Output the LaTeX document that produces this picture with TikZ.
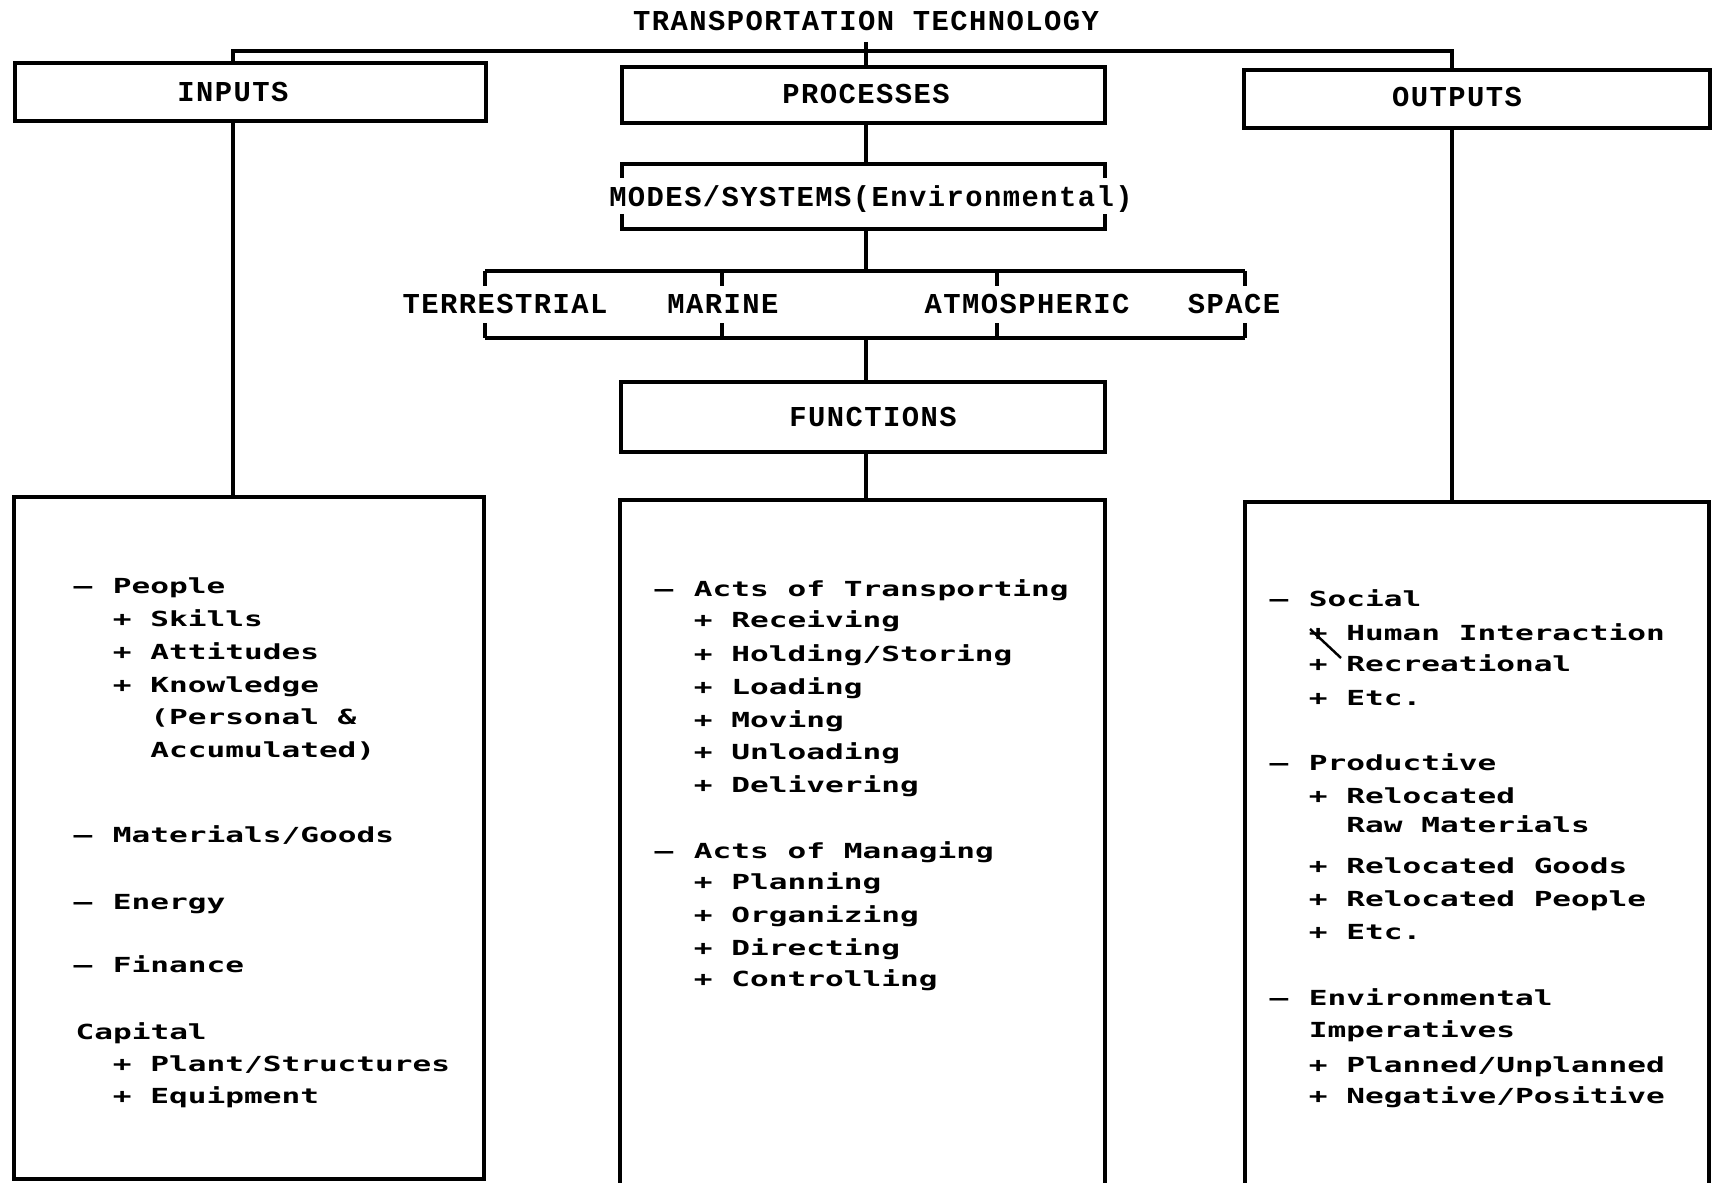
\documentclass[tikz,border=0pt]{standalone}
\usepackage{fontspec}
\usetikzlibrary{fit}
\newfontfamily\headfont[LetterSpace=5]{Liberation Mono}
\newfontfamily\bodyfont[FakeStretch=1.5]{DejaVu Sans Mono}
\begin{document}
\begin{tikzpicture}[x=0.01cm,y=-0.01cm,line width=0.9pt,
  head/.style={font=\headfont\bfseries\fontsize{8.2pt}{9pt}\selectfont, inner sep=0pt, anchor=base},
  body/.style={font=\bodyfont\bfseries\fontsize{5.9pt}{7pt}\selectfont, inner sep=0pt, anchor=base west},
  frame/.style={draw, inner sep=0pt},
]
\useasboundingbox[fill=white] (0,0) rectangle (1712,1183);

% connector columns and the top bus
\coordinate (inx) at (233,0);
\coordinate (px) at (866,0);
\coordinate (outx) at (1452,0);
\coordinate (bus) at (0,51);

% title and the three heading boxes
\node[head] (title) at (866,31) {TRANSPORTATION TECHNOLOGY};
\node[frame, fit={(15,63) (486,121)}] (inp) {};
\node[frame, fit={(622,67) (1105,123)}] (proc) {};
\node[frame, fit={(1244,70) (1710,128)}] (outp) {};
\node[head] (inpt) at (233,102) {INPUTS};
\node[head] (proct) at (866,104) {PROCESSES};
\node[head] (outpt) at (1457,107) {OUTPUTS};

\draw ([yshift=-0.09cm]title.south) -- (proc.north -| px);
\draw (inp.north -| inx) -- (inx |- bus) -- (outx |- bus) -- (outp.north -| outx);

% modes / systems bracket
\node[head] (modes) at (871,207) {MODES/SYSTEMS(Environmental)};
\coordinate (m1) at (622,164);
\coordinate (m2) at (1105,164);
\coordinate (m3) at (622,229);
\coordinate (m4) at (1105,229);
\draw (m1) ++(0,14) -- (m1) -- (m2) -- ++(0,14);
\draw (m3) ++(0,-15) -- (m3) -- (m4) -- ++(0,-15);
\draw (proc.south -| px) -- (m1 -| px);

% environments bar
\coordinate (b1) at (485,271);
\coordinate (b2) at (1245,271);
\coordinate (b3) at (485,338);
\coordinate (b4) at (1245,338);
\draw (b1) -- (b2);
\draw (b3) -- (b4);
\foreach \x in {485,722,997,1245}{
  \draw (\x,271) -- ++(0,15);
  \draw (\x,338) -- ++(0,-15);
}
\node[head] (terr) at (505,314) {TERRESTRIAL};
\node[head] (mar) at (723,314) {MARINE};
\node[head] (atm) at (1027,314) {ATMOSPHERIC};
\node[head] (spc) at (1234,314) {SPACE};
\draw (m3 -| px) -- (b1 -| px);

% functions
\node[frame, fit={(621,382) (1105,452)}] (func) {};
\node[head] (funct) at (873,427) {FUNCTIONS};
\draw (b3 -| px) -- (func.north -| px);

% detail boxes
\node[frame, fit={(14,497) (484,1179)}] (inbox) {};
\node[frame, fit={(620,500) (1105,1200)}] (procbox) {};
\node[frame, fit={(1245,502) (1709,1200)}] (outbox) {};
\draw (inp.south -| inx) -- (inbox.north -| inx);
\draw (func.south -| px) -- (procbox.north -| px);
\draw (outp.south -| outx) -- (outbox.north -| outx);

% inputs list
\node[body] (i1) at (72,593.9) {–};
\node[body] (i1t) at (111.4,593.9) {People};
\node[body] (i2) at (111.4,626.7) {+};
\node[body] (i2t) at (148.8,626.7) {Skills};
\node[body] (i3) at (111.4,659.4) {+};
\node[body] (i3t) at (148.8,659.4) {Attitudes};
\node[body] (i4) at (111.4,692.2) {+};
\node[body] (i4t) at (148.8,692.2) {Knowledge};
\node[body] (i5t) at (148.8,725.0) {(Personal \&};
\node[body] (i6t) at (148.8,757.7) {Accumulated)};
\node[body] (i7) at (72,842.9) {–};
\node[body] (i7t) at (111.4,842.9) {Materials/Goods};
\node[body] (i8) at (72,909.5) {–};
\node[body] (i8t) at (111.4,909.5) {Energy};
\node[body] (i9) at (72,972.8) {–};
\node[body] (i9t) at (111.4,972.8) {Finance};
\node[body] (i10t) at (74,1039.4) {Capital};
\node[body] (i11) at (111.4,1071.1) {+};
\node[body] (i11t) at (148.8,1071.1) {Plant/Structures};
\node[body] (i12) at (111.4,1103.8) {+};
\node[body] (i12t) at (148.8,1103.8) {Equipment};

% processes list
\node[body] (p1) at (653,596.1) {–};
\node[body] (p1t) at (692.4,596.1) {Acts of Transporting};
\node[body] (p2) at (692.4,627.8) {+};
\node[body] (p2t) at (729.8,627.8) {Receiving};
\node[body] (p3) at (692.4,661.6) {+};
\node[body] (p3t) at (729.8,661.6) {Holding/Storing};
\node[body] (p4) at (692.4,694.4) {+};
\node[body] (p4t) at (729.8,694.4) {Loading};
\node[body] (p5) at (692.4,727.1) {+};
\node[body] (p5t) at (729.8,727.1) {Moving};
\node[body] (p6) at (692.4,759.9) {+};
\node[body] (p6t) at (729.8,759.9) {Unloading};
\node[body] (p7) at (692.4,792.6) {+};
\node[body] (p7t) at (729.8,792.6) {Delivering};
\node[body] (p8) at (653,858.2) {–};
\node[body] (p8t) at (692.4,858.2) {Acts of Managing};
\node[body] (p9) at (692.4,889.8) {+};
\node[body] (p9t) at (729.8,889.8) {Planning};
\node[body] (p10) at (692.4,922.6) {+};
\node[body] (p10t) at (729.8,922.6) {Organizing};
\node[body] (p11) at (692.4,955.3) {+};
\node[body] (p11t) at (729.8,955.3) {Directing};
\node[body] (p12) at (692.4,987.0) {+};
\node[body] (p12t) at (729.8,987.0) {Controlling};

% outputs list
\node[body] (o1) at (1268,607.0) {–};
\node[body] (o1t) at (1307.4,607.0) {Social};
\node[body] (o2) at (1307.4,640.9) {+};
\node[body] (o2t) at (1344.8,640.9) {Human Interaction};
\node[body] (o3) at (1307.4,671.5) {+};
\node[body] (o3t) at (1344.8,671.5) {Recreational};
\node[body] (o4) at (1307.4,705.3) {+};
\node[body] (o4t) at (1344.8,705.3) {Etc.};
\node[body] (o5) at (1268,770.8) {–};
\node[body] (o5t) at (1307.4,770.8) {Productive};
\node[body] (o6) at (1307.4,803.6) {+};
\node[body] (o6t) at (1344.8,803.6) {Relocated};
\node[body] (o7t) at (1344.8,833.0) {Raw Materials};
\node[body] (o8) at (1307.4,873.4) {+};
\node[body] (o8t) at (1344.8,873.4) {Relocated Goods};
\node[body] (o9) at (1307.4,906.2) {+};
\node[body] (o9t) at (1344.8,906.2) {Relocated People};
\node[body] (o10) at (1307.4,940.0) {+};
\node[body] (o10t) at (1344.8,940.0) {Etc.};
\node[body] (o11) at (1268,1005.5) {–};
\node[body] (o11t) at (1307.4,1005.5) {Environmental};
\node[body] (o12t) at (1307.4,1037.2) {Imperatives};
\node[body] (o13) at (1307.4,1072.1) {+};
\node[body] (o13t) at (1344.8,1072.1) {Planned/Unplanned};
\node[body] (o14) at (1307.4,1103.8) {+};
\node[body] (o14t) at (1344.8,1103.8) {Negative/Positive};

% pen stroke between the first two social items
\draw[line width=0.7pt] (1310,629) -- (1341,658);
\end{tikzpicture}
\end{document}
